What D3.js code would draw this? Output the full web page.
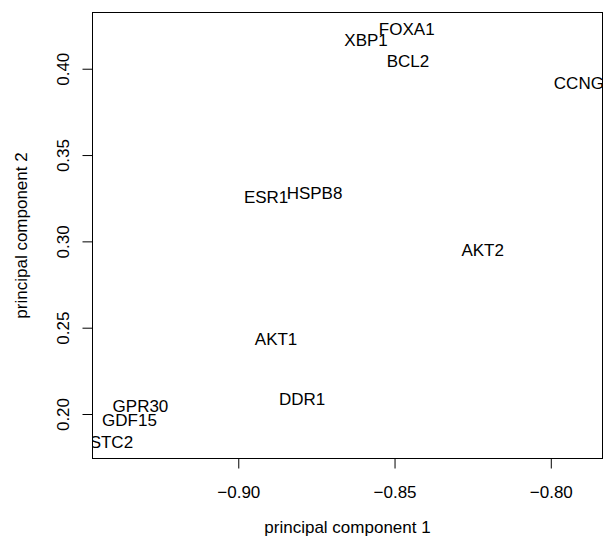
<!DOCTYPE html>
<html>
<head>
<meta charset="utf-8">
<script src="https://cdn.jsdelivr.net/npm/d3@7"></script>
<style>
  body { margin: 0; background: #fff; }
  text { font-family: "Liberation Sans", Arial, sans-serif; }
</style>
</head>
<body>
<div id="chart"></div>
<script>
// Gene labels and their PCA coordinates
const genes = ["FOXA1", "XBP1", "BCL2", "CCNG2", "ESR1", "HSPB8", "AKT2", "AKT1", "DDR1", "GPR30", "GDF15", "STC2"];
const pc1 = [-0.8461, -0.8591, -0.8457, -0.7895, -0.8911, -0.8756, -0.8218, -0.8879, -0.8796, -0.9313, -0.9348, -0.9406];
const pc2 = [0.4230, 0.4168, 0.4044, 0.3916, 0.3257, 0.3281, 0.2950, 0.2434, 0.2086, 0.2050, 0.1965, 0.1838];

const xTicks = [-0.90, -0.85, -0.80];
const yTicks = [0.20, 0.25, 0.30, 0.35, 0.40];

let width = 603, height = 542;
let box = { left: 92.5, right: 602.5, top: 12.5, bottom: 458.5 };

let svg = d3.select("#chart").append("svg")
    .attr("width", width)
    .attr("height", height);

// R style: pad the data range by 4% on each side
function padded(vals) {
    let ext = d3.extent(vals);
    let pad = (ext[1] - ext[0]) * 0.04;
    return [ext[0] - pad, ext[1] + pad];
}

let x = d3.scaleLinear().domain(padded(pc1)).range([box.left, box.right]);
let y = d3.scaleLinear().domain(padded(pc2)).range([box.bottom, box.top]);

let fmt = d3.format(".2f");

// Bottom axis
let xAxis = svg.append("g")
    .attr("transform", `translate(0, ${box.bottom})`)
    .call(d3.axisBottom(x).tickValues(xTicks).tickFormat(fmt).tickSize(10).tickSizeOuter(0));
xAxis.select(".domain").remove();
xAxis.selectAll(".tick line").attr("stroke", "#000");
xAxis.selectAll(".tick text")
    .attr("y", 39)
    .attr("dy", 0)
    .style("font-size", "17px")
    .attr("fill", "#000");

// Left axis with rotated labels
let yAxis = svg.append("g")
    .attr("transform", `translate(${box.left}, 0)`)
    .call(d3.axisLeft(y).tickValues(yTicks).tickFormat(fmt).tickSize(10).tickSizeOuter(0));
yAxis.select(".domain").remove();
yAxis.selectAll(".tick line").attr("stroke", "#000");
yAxis.selectAll(".tick text")
    .attr("x", null)
    .attr("dy", 0)
    .attr("text-anchor", "middle")
    .attr("transform", "translate(-23.5, 0) rotate(-90)")
    .style("font-size", "17px")
    .attr("fill", "#000");

// Clip the labels to the plot region
svg.append("defs").append("clipPath")
    .attr("id", "plot-clip")
    .append("rect")
    .attr("x", box.left)
    .attr("y", box.top)
    .attr("width", box.right - box.left)
    .attr("height", box.bottom - box.top);

svg.append("g")
    .attr("clip-path", "url(#plot-clip)")
    .selectAll("text")
    .data(genes)
    .join("text")
    .attr("x", (d, i) => x(pc1[i]))
    .attr("y", (d, i) => y(pc2[i]))
    .attr("dy", "0.36em")
    .attr("text-anchor", "middle")
    .style("font-size", "17px")
    .attr("fill", "#000")
    .text(d => d);

// Plot box
svg.append("rect")
    .attr("x", box.left)
    .attr("y", box.top)
    .attr("width", box.right - box.left)
    .attr("height", box.bottom - box.top)
    .attr("fill", "none")
    .attr("stroke", "#000");

// Axis titles
svg.append("text")
    .attr("x", (box.left + box.right) / 2)
    .attr("y", 533)
    .attr("text-anchor", "middle")
    .style("font-size", "17px")
    .text("principal component 1");

svg.append("text")
    .attr("transform", `translate(27, ${(box.top + box.bottom) / 2}) rotate(-90)`)
    .attr("text-anchor", "middle")
    .style("font-size", "17px")
    .text("principal component 2");
</script>
</body>
</html>
